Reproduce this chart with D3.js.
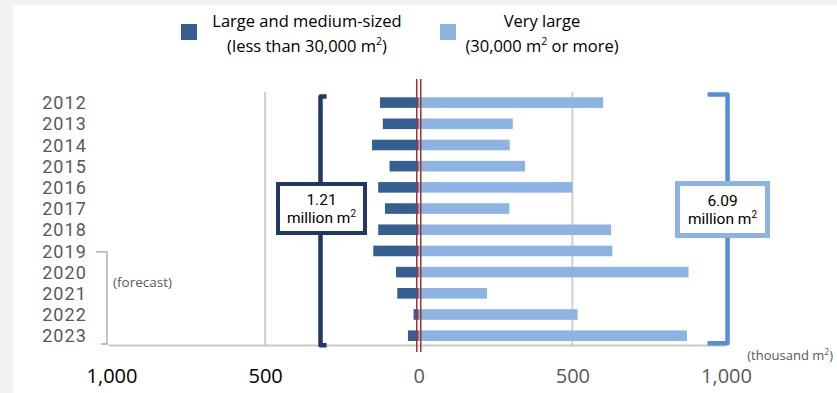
<!DOCTYPE html>
<html>
<head>
<meta charset="utf-8">
<script src="https://cdn.jsdelivr.net/npm/d3@7/dist/d3.min.js"></script>
<style>
  html, body { margin: 0; padding: 0; background: #f2f2f2; }
  svg { display: block; font-family: "Open Sans", "Liberation Sans", sans-serif; }
</style>
</head>
<body>
<svg id="chart" width="837" height="393"></svg>
<script>
// Floor space of new stores opened per year (thousand m²)
const years = ["2012","2013","2014","2015","2016","2017","2018","2019","2020","2021","2022","2023"];
const largeMedium = [126, 117, 152, 95, 132, 110, 132, 148, 74, 70, 17, 35];   // less than 30,000 m²
const veryLarge   = [600, 306, 296, 346, 500, 295, 626, 630, 878, 222, 517, 873]; // 30,000 m² or more
const tickValues  = [-1000, -500, 0, 500, 1000];
const forecastFrom = "2019";

const svg = d3.select("#chart");
const W = 837, H = 393;

// white panel
svg.append("rect").attr("x", 13).attr("y", 5).attr("width", W - 13).attr("height", H - 5).attr("fill", "#ffffff");

const x = d3.scaleLinear().domain([-1000, 1000]).range([111.5, 726]);
const y = d3.scaleBand().domain(years).range([92, 346.3]).paddingInner(0.5).paddingOuter(0.25);

const cDark = "#355f91", cLight = "#8db3e2";

// gridlines at ±500
svg.append("g").selectAll("line").data([-500, 500]).join("line")
  .attr("x1", d => x(d)).attr("x2", d => x(d))
  .attr("y1", y.range()[0]).attr("y2", y.range()[1])
  .attr("stroke", "#cfcfcf").attr("stroke-width", 2);

// baseline
svg.append("line")
  .attr("x1", x(-1000) - 3).attr("x2", x(1000))
  .attr("y1", 345.5).attr("y2", 345.5)
  .attr("stroke", "#c8c8c8").attr("stroke-width", 2);

// brackets behind the total boxes
const bTop = y.range()[0] + 4, bBot = y.range()[1] - 1;
svg.append("path")
  .attr("d", `M${x(-300)},${bTop + 0.5}H${x(-310) - 3}V${bBot}H${x(-300)}`)
  .attr("fill", "none").attr("stroke", "#1f3864").attr("stroke-width", 4.5).attr("stroke-linejoin", "round");
svg.append("path")
  .attr("d", `M${x(940)},${bTop - 1.5}H${x(1005)}V${bBot - 2}H${x(940)}`)
  .attr("fill", "none").attr("stroke", "#558ed5").attr("stroke-width", 4.5).attr("stroke-linejoin", "round");

// bars
svg.append("g").selectAll("rect").data(years).join("rect")
  .attr("x", (d, i) => x(-largeMedium[i]))
  .attr("width", (d, i) => x(0) - x(-largeMedium[i]))
  .attr("y", d => y(d)).attr("height", y.bandwidth())
  .attr("fill", cDark);
svg.append("g").selectAll("rect").data(years).join("rect")
  .attr("x", x(0))
  .attr("width", (d, i) => x(veryLarge[i]) - x(0))
  .attr("y", d => y(d)).attr("height", y.bandwidth())
  .attr("fill", cLight);

// double zero line
svg.append("g").selectAll("line").data([-2, 2]).join("line")
  .attr("x1", d => x(0) + d).attr("x2", d => x(0) + d)
  .attr("y1", 79).attr("y2", 352)
  .attr("stroke", "#a5322f").attr("stroke-width", 1.5);

// year axis
const yAxis = svg.append("g").attr("transform", "translate(89,0)")
  .call(d3.axisLeft(y).tickSize(0).tickPadding(2));
yAxis.select(".domain").remove();
yAxis.selectAll("text").attr("font-size", 18).attr("fill", "#595959")
  .attr("font-family", "Roboto, sans-serif").attr("letter-spacing", 1.1).attr("dy", "0.37em");

// forecast marker
const fy0 = y(forecastFrom) + y.bandwidth() / 2 + 1, fy1 = 344;
svg.append("path")
  .attr("d", `M96,${fy0}H107V${fy1}H101`)
  .attr("fill", "none").attr("stroke", "#a6a6a6").attr("stroke-width", 1.3);
svg.append("text").attr("x", 113).attr("y", 287).attr("font-size", 13.5).attr("fill", "#595959")
  .text("(forecast)");

// value axis
const xAxis = svg.append("g").attr("transform", "translate(0,366)")
  .call(d3.axisBottom(x).tickValues(tickValues).tickSize(0)
    .tickFormat(d => d3.format(",")(Math.abs(d))));
xAxis.select(".domain").remove();
xAxis.selectAll("text").attr("font-size", 20)
  .attr("font-family", "'Open Sans', sans-serif")
  .attr("fill", d => d < 0 ? "#000000" : "#595959");

// unit label
const unit = svg.append("text").attr("x", 833).attr("y", 360).attr("text-anchor", "end")
  .attr("font-size", 13).attr("fill", "#595959");
unit.append("tspan").text("(thousand m");
unit.append("tspan").attr("font-size", 8.5).attr("dy", -5).text("2");
unit.append("tspan").attr("dy", 5).text(")");

// total boxes
function totalBox(cx, x0, y0, w, h, stroke, sw, value) {
  const g = svg.append("g").attr("font-family", "Roboto, sans-serif");
  g.append("rect").attr("x", x0).attr("y", y0).attr("width", w).attr("height", h)
    .attr("fill", "#ffffff").attr("stroke", stroke).attr("stroke-width", sw);
  g.append("text").attr("x", cx).attr("y", y0 + h / 2 - 4).attr("text-anchor", "middle")
    .attr("font-size", 15.5).attr("fill", "#000").text(d3.format(".2f")(value / 1000));
  const t = g.append("text").attr("x", cx).attr("y", y0 + h / 2 + 14.5).attr("text-anchor", "middle")
    .attr("font-size", 15.5).attr("fill", "#000");
  t.append("tspan").text("million m");
  t.append("tspan").attr("font-size", 10).attr("dy", -6).text("2");
}
totalBox(321.5, 278, 184, 87, 49, "#1f3864", 4, d3.sum(largeMedium));
totalBox(722.5, 677.5, 183.5, 90, 52, cLight, 5, d3.sum(veryLarge));

// legend
function legendItem(sx, color, cx, line1, pre, post) {
  svg.append("rect").attr("x", sx).attr("y", 24).attr("width", 16).attr("height", 16).attr("fill", color);
  svg.append("text").attr("x", cx).attr("y", 27).attr("text-anchor", "middle")
    .attr("font-size", 16.5).attr("fill", "#000").text(line1);
  const t = svg.append("text").attr("x", cx).attr("y", 52).attr("text-anchor", "middle")
    .attr("font-size", 16.5).attr("fill", "#000");
  t.append("tspan").text(pre);
  t.append("tspan").attr("font-size", 10.5).attr("dy", -7).text("2");
  t.append("tspan").attr("dy", 7).text(post);
}
legendItem(181, cDark, 307, "Large and medium-sized", "(less than 30,000 m", ")");
legendItem(440, cLight, 542, "Very large", "(30,000 m", " or more)");
</script>
</body>
</html>
